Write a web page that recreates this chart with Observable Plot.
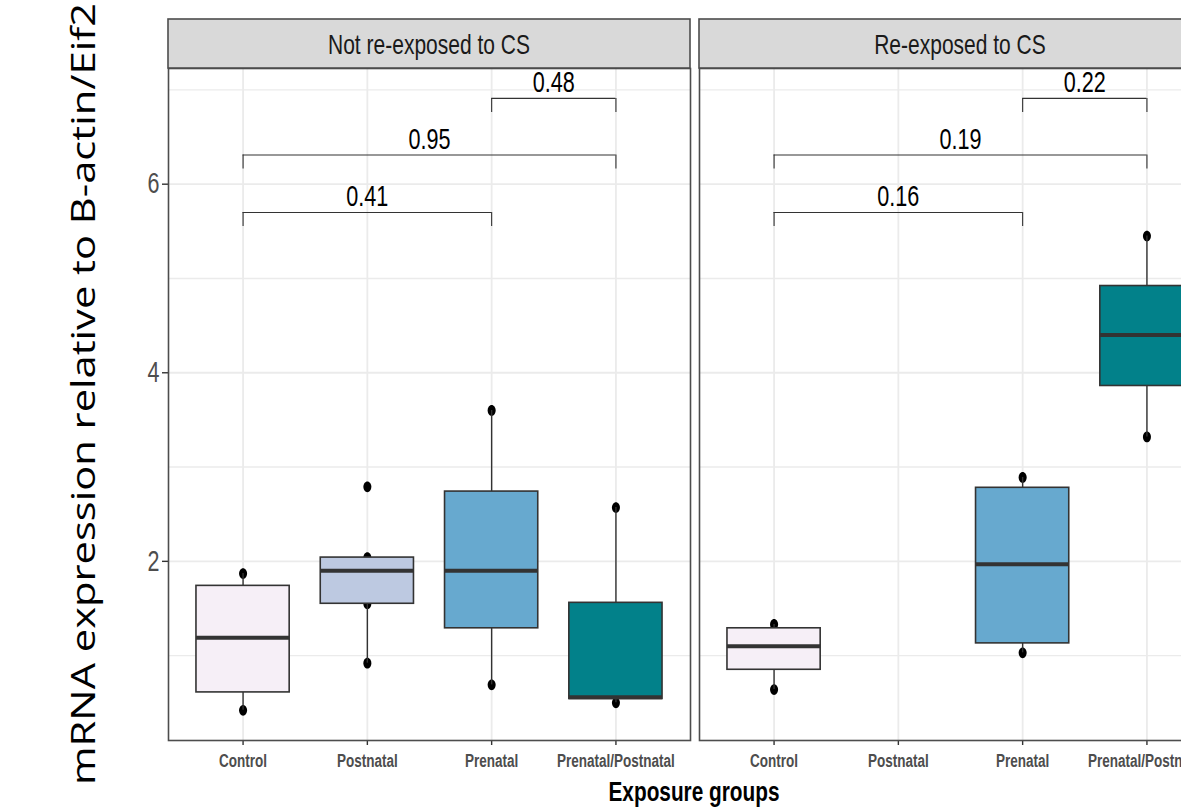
<!DOCTYPE html>
<html><head><meta charset="utf-8">
<script src="https://cdn.jsdelivr.net/npm/d3@7"></script>
<script src="https://cdn.jsdelivr.net/npm/@observablehq/plot@0.6"></script>
<style>
html,body{margin:0;padding:0;background:#fff;overflow:hidden;}
#wrap{position:relative;width:1181px;height:807px;overflow:hidden;background:#fff;}
#wrap svg{position:absolute;top:0;overflow:visible;}
</style></head>
<body><div id="wrap"></div>
<script>
// ---------------- data ----------------
const categories = ["Control", "Postnatal", "Prenatal", "Prenatal/Postnatal"];
const panelNames = ["Not re-exposed to CS", "Re-exposed to CS"];
const fillColors = ["#F6EFF7", "#BDC9E1", "#67A9CF", "#02818A"];

// Panel A: Not re-exposed to CS
const lowA    = [0.42, 0.92, 0.69, 0.50];
const q1A     = [0.61, 1.55, 1.29, 0.54];
const medianA = [1.19, 1.90, 1.90, 0.56];
const q3A     = [1.74, 2.04, 2.74, 1.56];
const highA   = [1.87, 2.04, 3.60, 2.57];
const pointsA = [[0.42, 1.87], [0.92, 1.55, 2.04, 2.79], [0.69, 3.60], [0.50, 2.57]];
const pLabelsA = ["0.41", "0.95", "0.48"];

// Panel B: Re-exposed to CS (no Postnatal group)
const lowB    = [0.64, null, 1.03, 3.32];
const q1B     = [0.85, null, 1.13, 3.86];
const medianB = [1.10, null, 1.97, 4.40];
const q3B     = [1.29, null, 2.78, 4.92];
const highB   = [1.33, null, 2.89, 5.45];
const pointsB = [[0.64, 1.33], [], [1.03, 2.89], [3.32, 5.45]];
const pLabelsB = ["0.16", "0.19", "0.22"];

// comparison brackets
const bracketFrom = ["Control", "Control", "Prenatal"];
const bracketTo   = ["Prenatal", "Prenatal/Postnatal", "Prenatal/Postnatal"];
const bracketY    = [5.70, 6.31, 6.91];

const yTicks = [2, 4, 6];
const yMinor = [1, 3, 5, 7];

const yTitle = "mRNA expression relative to B-actin/Eif2";
const xTitle = "Exposure groups";

// ---------------- drawing ----------------
const SANS = '"Liberation Sans",Arial,sans-serif';
const wrap = document.getElementById("wrap");

// compress text horizontally (narrow font look)
function narrow(sel, f) {
  sel.each(function () {
    const len = this.getComputedTextLength();
    if (len > 0) {
      this.setAttribute("textLength", (len * f).toFixed(2));
      this.setAttribute("lengthAdjust", "spacingAndGlyphs");
    }
  });
}

const ellipse = {
  draw(ctx) {
    const rx = 4, ry = 5.4, k = 0.5523;
    ctx.moveTo(rx, 0);
    ctx.bezierCurveTo(rx, ry * k, rx * k, ry, 0, ry);
    ctx.bezierCurveTo(-rx * k, ry, -rx, ry * k, -rx, 0);
    ctx.bezierCurveTo(-rx, -ry * k, -rx * k, -ry, 0, -ry);
    ctx.bezierCurveTo(rx * k, -ry, rx, -ry * k, rx, 0);
    ctx.closePath();
  }
};

function makePanel(p) {
  const rows = categories.map((c, i) => ({
    cat: c, pos: i + 1, fill: fillColors[i],
    low: p.low[i], q1: p.q1[i], median: p.median[i], q3: p.q3[i], high: p.high[i]
  })).filter(d => d.q1 != null);
  const pts = p.points.flatMap((arr, i) => arr.map(v => ({pos: i + 1, value: v})));
  const br = bracketFrom.map((f, i) => ({
    a: categories.indexOf(f) + 1, b: categories.indexOf(bracketTo[i]) + 1,
    y: bracketY[i], label: p.labels[i]
  }));
  const half = 0.375, tick = 0.15;
  const chart = Plot.plot({
    width: p.width, height: 807,
    marginLeft: p.marginLeft, marginRight: p.marginRight, marginTop: 68, marginBottom: 67,
    style: {fontFamily: SANS, background: "transparent", overflow: "visible"},
    x: {domain: [0.4, 4.6], ticks: [1, 2, 3, 4], tickFormat: d => categories[d - 1], tickSize: 5, tickPadding: 9, label: null},
    y: p.showY ? {domain: [0.1, 7.227], ticks: yTicks, tickSize: 6, tickPadding: 3, label: null}
               : {domain: [0.1, 7.227], axis: null},
    marks: [
      Plot.ruleY(yMinor, {stroke: "#EBEBEB", strokeWidth: 1.4}),
      Plot.ruleY(yTicks, {stroke: "#EBEBEB", strokeWidth: 1.8}),
      Plot.ruleX([1, 2, 3, 4], {stroke: "#EBEBEB", strokeWidth: 1.8}),
      Plot.dot(pts, {x: "pos", y: "value", symbol: ellipse, fill: "black", stroke: "none", r: 5}),
      Plot.ruleX(rows, {x: "pos", y1: "low", y2: "q1", stroke: "#333333", strokeWidth: 1.4}),
      Plot.ruleX(rows, {x: "pos", y1: "q3", y2: "high", stroke: "#333333", strokeWidth: 1.4}),
      Plot.rect(rows, {x1: d => d.pos - half, x2: d => d.pos + half, y1: "q1", y2: "q3",
        fill: d => d.fill, stroke: "#333333", strokeWidth: 1.6}),
      Plot.ruleY(rows, {x1: d => d.pos - half, x2: d => d.pos + half, y: "median", stroke: "#333333", strokeWidth: 4}),
      Plot.ruleY(br, {x1: "a", x2: "b", y: "y", stroke: "#333333", strokeWidth: 1.1}),
      Plot.ruleX(br, {x: "a", y1: d => d.y - tick, y2: "y", stroke: "#333333", strokeWidth: 1.1}),
      Plot.ruleX(br, {x: "b", y1: d => d.y - tick, y2: "y", stroke: "#333333", strokeWidth: 1.1}),
      Plot.text(br, {x: d => (d.a + d.b) / 2, y: "y", text: "label", lineAnchor: "bottom", dy: -6,
        fontSize: 30, fill: "black", fontFamily: SANS}),
      Plot.frame({stroke: "#4D4D4D", strokeWidth: 1.6})
    ]
  });
  chart.style.left = p.left + "px";
  wrap.appendChild(chart);
  const svg = d3.select(chart);
  const xt = svg.selectAll('[aria-label^="x-axis"] text')
    .attr("font-size", 18).attr("font-weight", "bold").attr("fill", "#4D4D4D").attr("font-family", SANS);
  narrow(xt, 0.75);
  svg.selectAll('[aria-label^="x-axis"] path, [aria-label^="x-axis"] line').attr("stroke", "#333333").attr("stroke-width", 1.4);
  const yt = svg.selectAll('[aria-label^="y-axis"] text').attr("font-size", 29).attr("fill", "#4D4D4D").attr("font-family", SANS);
  narrow(yt, 0.74);
  svg.selectAll('[aria-label^="y-axis"] path, [aria-label^="y-axis"] line').attr("stroke", "#333333").attr("stroke-width", 1.4);
  narrow(svg.selectAll("text").filter(function () { return p.labels.includes(this.textContent.trim()); }), 0.72);
  // strip header
  const fw = p.width - p.marginLeft - p.marginRight;
  const strip = svg.append("g");
  strip.append("rect").attr("x", p.marginLeft).attr("y", 19).attr("width", fw).attr("height", 49)
    .attr("fill", "#D9D9D9").attr("stroke", "#4D4D4D").attr("stroke-width", 1.6);
  const st = strip.append("text").attr("x", p.marginLeft + fw / 2).attr("y", 54)
    .attr("text-anchor", "middle").attr("font-family", SANS).attr("font-size", 28)
    .attr("fill", "#1A1A1A").text(p.name);
  narrow(st, 0.75);
}

makePanel({name: panelNames[0], low: lowA, q1: q1A, median: medianA, q3: q3A, high: highA,
  points: pointsA, labels: pLabelsA, left: 0, width: 692, marginLeft: 168, marginRight: 2, showY: true});
makePanel({name: panelNames[1], low: lowB, q1: q1B, median: medianB, q3: q3B, high: highB,
  points: pointsB, labels: pLabelsB, left: 690, width: 540, marginLeft: 9, marginRight: 9, showY: false});

// axis titles
const over = d3.select(wrap).append("svg").attr("width", 1181).attr("height", 807).style("left", "0px").style("pointer-events", "none");
over.append("text").attr("transform", "translate(95,785) rotate(-90)")
  .attr("font-family", '"Open Sans","Noto Sans",sans-serif').attr("font-size", 33).attr("fill", "black")
  .attr("textLength", 782).attr("lengthAdjust", "spacingAndGlyphs")
  .text(yTitle);
const xtl = over.append("text").attr("x", 694).attr("y", 801).attr("text-anchor", "middle")
  .attr("font-family", SANS).attr("font-weight", "bold").attr("font-size", 27).attr("fill", "black")
  .text(xTitle);
narrow(xtl, 0.77);
</script></body></html>
